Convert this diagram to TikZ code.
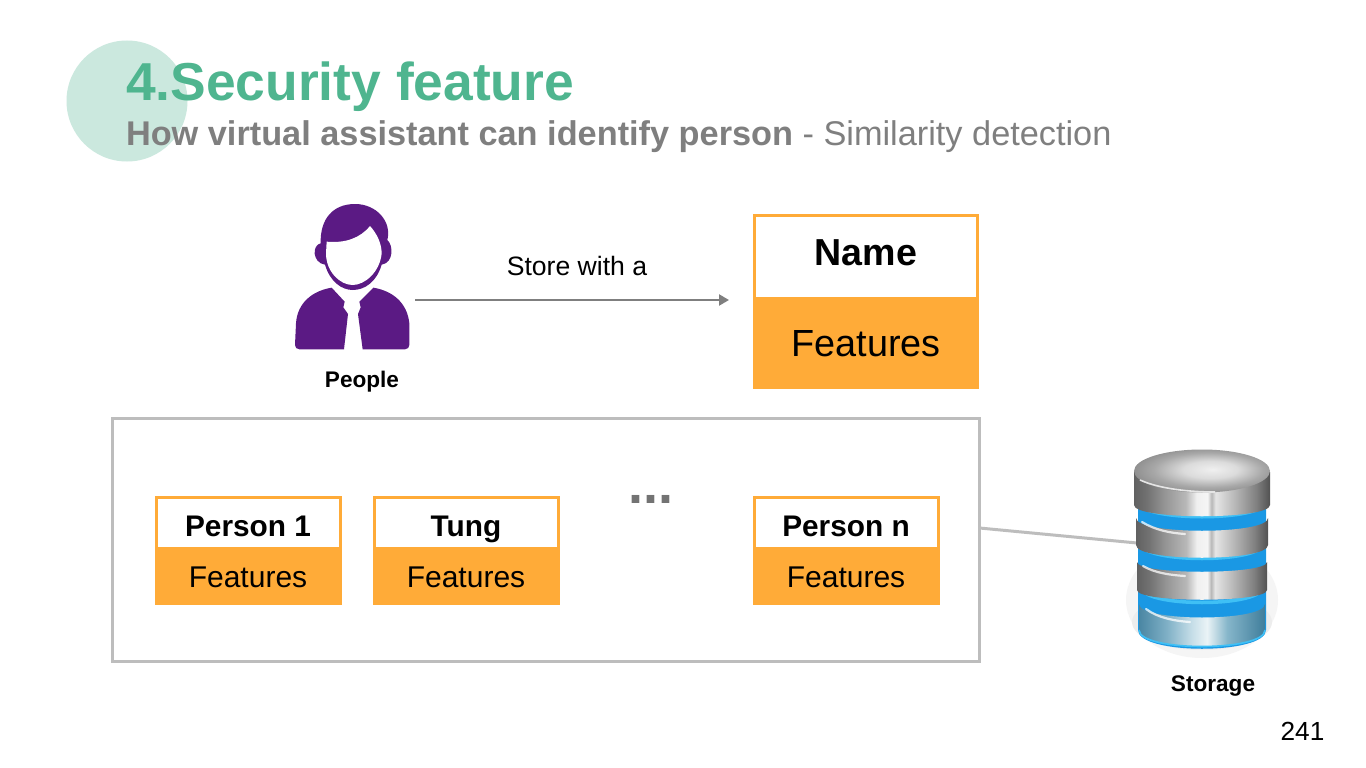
\documentclass[tikz,border=0pt]{standalone}
\usepackage{fontspec}
\setmainfont{Liberation Sans}
\usetikzlibrary{arrows.meta}
\definecolor{orangefill}{HTML}{FFAB38}
\definecolor{frameg}{HTML}{BDBDBD}
\definecolor{titleg}{HTML}{4FB58F}
\definecolor{circg}{HTML}{CBE8DE}
\definecolor{subg}{HTML}{7F7F7F}
\definecolor{purp}{HTML}{5B1A84}
\definecolor{ringb}{HTML}{1A98E4}
\definecolor{ringl}{HTML}{3FC0F5}
\definecolor{mba}{HTML}{4A86A3}
\definecolor{mbb}{HTML}{7FB0C6}
\definecolor{mbc}{HTML}{C6DEE8}
\definecolor{mbd}{HTML}{EAF3F6}
\definecolor{mbe}{HTML}{86B6CA}
\definecolor{mbf}{HTML}{3F7D9B}
\pgfdeclarehorizontalshading{metal}{100bp}{
 color(0bp)=(black!62);color(25bp)=(black!62);color(30bp)=(black!55);color(36bp)=(black!42);color(44bp)=(black!28);color(48bp)=(black!6);color(52bp)=(black!4);color(53.5bp)=(black!28);color(55bp)=(black!10);color(62bp)=(black!28);color(70bp)=(black!50);color(75bp)=(black!68);color(100bp)=(black!68)}
\pgfdeclarehorizontalshading{metalblue}{100bp}{
 color(0bp)=(mba);color(25bp)=(mba);color(36bp)=(mbb);color(46bp)=(mbc);color(52bp)=(mbd);color(60bp)=(mbe);color(75bp)=(mbf);color(100bp)=(mbf)}
\pgfdeclareradialshading{disc}{\pgfpoint{4bp}{2bp}}{
 color(0bp)=(black!6);color(10bp)=(black!14);color(20bp)=(black!34);color(30bp)=(black!48);color(50bp)=(black!55)}
% slab: half width, top side y, top control y, bottom side y, bottom control y, shading (centre x = 1202)
\newcommand{\dbslab}[6]{%
 \shade[shading=#6] (1202-#1,#2) .. controls (1202-#1,#3) and (1202+#1,#3) .. (1202+#1,#2)
   -- (1202+#1,#4) .. controls (1202+#1,#5) and (1202-#1,#5) .. (1202-#1,#4) -- cycle;
}
\tikzset{
 x=1pt,y=-1pt,
 every node/.style={inner sep=0pt,outer sep=0pt,font=\fontsize{30}{32}\selectfont},
 framebox/.style={draw=frameg,line width=3pt,fill=white,rectangle},
 orangepart/.style={fill=orangefill,draw=orangefill,line width=3pt},
 whitepart/.style={fill=white,draw=orangefill,line width=3pt},
 capt/.style={anchor=base,text=black},
 wire/.style={draw=frameg,line width=3pt},
 flow/.style={draw=subg,line width=2.2pt,-{Triangle[length=10pt,width=11pt]}},
 glow/.style={ringl,line width=3.5pt},
 shine/.style={white,opacity=.75,line width=2.2pt,line cap=round}
}
\begin{document}
\begin{tikzpicture}
\useasboundingbox[fill=white] (0,0) rectangle (1366,768);
% title
\fill[circg] (127,101) circle[radius=60.5];
\node[anchor=base west,text=titleg,font=\fontsize{53.4}{56}\selectfont\bfseries] (title) at (126,100) {4.Security feature};
\node[anchor=base west,text=subg,font=\fontsize{34.3}{36}\selectfont] (subtitle) at (126,145) {\textbf{How virtual assistant can identify person} - Similarity detection};
% person icon
\begin{scope}[shift={(270,190)},scale=1/3]
 \fill[purp] (255,42) .. controls (190,42) and (150,85) .. (152,160)
   .. controls (126,165) and (126,218) .. (165,224)
   .. controls (180,275) and (215,300) .. (248,300)
   .. controls (285,300) and (320,275) .. (335,224)
   .. controls (372,218) and (370,165) .. (352,150)
   .. controls (366,95) and (320,42) .. (255,42) -- cycle;
 \fill[white] (170,155) .. controls (225,160) and (270,145) .. (300,108)
   .. controls (320,130) and (335,160) .. (335,190)
   .. controls (330,245) and (285,285) .. (248,285)
   .. controls (210,285) and (168,245) .. (168,190) -- cycle;
 \fill[purp] (185,293) -- (224,335) -- (220,352) -- (234,372) -- (222,478) -- (88,478)
   .. controls (80,478) and (75,472) .. (75,465) -- (78,400) .. controls (82,340) and (125,303) .. (185,293) -- cycle;
 \fill[purp] (310,293) -- (268,335) -- (272,352) -- (264,372) -- (278,478) -- (405,478)
   .. controls (413,478) and (418,472) .. (418,465) -- (418,400) .. controls (412,340) and (370,303) .. (310,293) -- cycle;
\end{scope}
\node[minimum width=115pt,minimum height=146pt] (person) at (352,277) {};
\node[capt,font=\fontsize{22.6}{24}\selectfont\bfseries] (peoplelabel) at (362,387) {People};
% arrow
\coordinate (arrowstart) at (415,300);
\coordinate (arrowend) at (729,300);
\draw[flow] (arrowstart) -- (arrowend);
\node[anchor=base,font=\fontsize{26.6}{29}\selectfont] (storelabel) at (577,275) {Store with a};
% Name card
\node[whitepart,minimum width=223pt,minimum height=83pt,anchor=north west] (nametop) at (754.5,215.5) {};
\node[orangepart,minimum width=223pt,minimum height=89pt,anchor=north west] (namebot) at (754.5,298) {};
\node[anchor=base,font=\fontsize{37.6}{39}\selectfont\bfseries] (namelabel) at (866,265) {Name};
\node[anchor=base,font=\fontsize{37.8}{39}\selectfont] (namefeat) at (866,356) {Features};
% storage frame
\node[framebox,minimum width=867pt,minimum height=243pt,anchor=north west] (frame) at (112.5,418.5) {};
% small cards
\foreach \nm/\lx/\lab in {a/155/Person 1,b/373/Tung,c/753/Person n}{
 \node[whitepart,minimum width=184pt,minimum height=51pt,anchor=north west] (top\nm) at (\lx+1.5,497.5) {};
 \node[orangepart,minimum width=184pt,minimum height=55pt,anchor=north west] (bot\nm) at (\lx+1.5,548.5) {};
 \node[anchor=base,font=\fontsize{29.8}{31}\selectfont\bfseries] (lab\nm) at (\lx+93,536) {\lab};
 \node[anchor=base,font=\fontsize{30}{31}\selectfont] (feat\nm) at (\lx+93,587) {Features};
}
\node[anchor=base,font=\fontsize{54}{56}\selectfont\bfseries,text=black!55] (dots) at (651,503) {...};
% database
\fill[black!4] (1202,600) ellipse[x radius=76,y radius=58];
\fill[black!7] (1202,622) ellipse[x radius=70,y radius=28];
\coordinate (dbleft) at (1137,543);
\draw[wire] (frame.east |- 0,528) -- (dbleft);
% blue core
\fill[ringb] (1138,495) -- (1138,630) .. controls (1138,655) and (1266,655) .. (1266,630) -- (1266,495) -- cycle;
% bottom piece
\dbslab{63}{604}{622}{630}{652}{metalblue}
\draw[ringl,line width=1.6pt] (1139,630) .. controls (1139,652) and (1265,652) .. (1265,630);
\draw[shine] (1146,609) .. controls (1158,618) and (1175,621) .. (1190,622);
\draw[glow] (1144,592) .. controls (1160,606) and (1244,606) .. (1260,592);
% third slab
\dbslab{65}{562}{575}{590}{603}{metal}
\draw[shine] (1143,566) .. controls (1155,573) and (1170,575) .. (1185,576);
\draw[glow] (1143,548) .. controls (1160,562) and (1244,562) .. (1261,548);
% second slab
\dbslab{66}{518}{535}{545}{562}{metal}
\draw[shine] (1142,522) .. controls (1155,530) and (1170,533) .. (1185,534);
\draw[glow] (1142,507) .. controls (1160,520) and (1244,520) .. (1262,507);
% top slab and disc
\dbslab{68}{472}{472}{505}{520}{metal}
\shade[shading=disc] (1202,471) ellipse[x radius=68,y radius=21.5];
\draw[black!10,line width=1.6pt] (1140,480) .. controls (1160,489) and (1190,492) .. (1215,492);
\node[capt,font=\fontsize{22.6}{24}\selectfont\bfseries] (storagelabel) at (1213,691) {Storage};
\node[minimum width=140pt,minimum height=200pt] (dbnode) at (1202,548) {};
% page number
\node[anchor=base,font=\fontsize{26.2}{29}\selectfont] (pagenum) at (1302.5,740) {241};
\end{tikzpicture}
\end{document}
